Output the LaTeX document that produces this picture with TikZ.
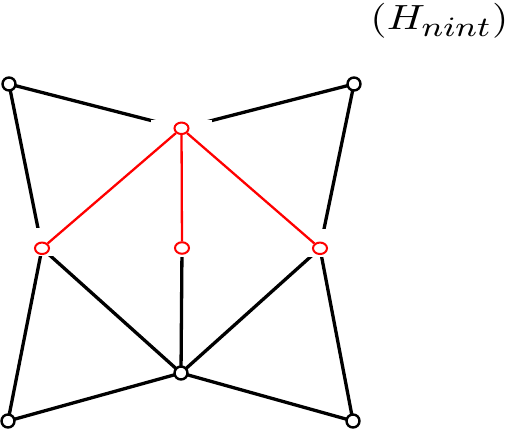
\documentclass[tikz,border=0pt]{standalone}
\usepackage{graphicx}
\usetikzlibrary{shapes.geometric}
\pgfdeclarelayer{bg}
\pgfdeclarelayer{mid}
\pgfsetlayers{bg,mid,main}
\tikzset{
  bnode/.style={circle, draw=black, line width=2.4pt, fill=white, minimum size=13pt, inner sep=0pt},
  rnode/.style={ellipse, draw=red, line width=2pt, fill=white, minimum width=14pt, minimum height=11.5pt, inner sep=0pt},
  bedge/.style={draw=black, line width=3.3pt},
  redge/.style={draw=red, line width=2.3pt},
  gapbox/.style={fill=white, draw=none}
}
\begin{document}
\begin{tikzpicture}[x=1pt,y=-1pt]
\useasboundingbox (0,0) rectangle (513,433);
% nodes
\node[bnode] (TL) at (9,84) {};
\node[bnode] (TR) at (354,84) {};
\node[bnode] (BL) at (8,421) {};
\node[bnode] (BR) at (353,421) {};
\node[bnode] (B) at (181,373) {};
\node[rnode] (T) at (181.5,128.3) {};
\node[rnode] (L) at (42,248.3) {};
\node[rnode] (C) at (182,248) {};
\node[rnode] (R) at (320,248.3) {};
% label
\node[anchor=center, inner sep=0pt] (lab) at (439.5,21) {\scalebox{4.2}[3.5]{$(H_{\mbox{\fontsize{8}{9}\selectfont$nint$}})$}};
% black edges
\begin{pgfonlayer}{bg}
\draw[bedge] (TL.center) -- (T.center);
\draw[bedge] (TR.center) -- (T.center);
\draw[bedge] (TL.center) -- (L.center);
\draw[bedge] (TR.center) -- (R.center);
\draw[bedge] (L.center) -- (BL.center);
\draw[bedge] (R.center) -- (BR.center);
\draw[bedge] (L.center) -- (B.center);
\draw[bedge] (C.center) -- (B.center);
\draw[bedge] (R.center) -- (B.center);
\draw[bedge] (BL.center) -- (B.center);
\draw[bedge] (BR.center) -- (B.center);
\end{pgfonlayer}
% white gaps and red edges
\begin{pgfonlayer}{mid}
\fill[gapbox] (151,120) rectangle (212,138);
\fill[gapbox] (30,228) rectangle (56,256);
\fill[gapbox] (306,229) rectangle (335,256.5);
\fill[gapbox] (170,240) rectangle (194,256.5);
\draw[redge] (T) -- (L);
\draw[redge] (T) -- (C);
\draw[redge] (T) -- (R);
\end{pgfonlayer}
\end{tikzpicture}
\end{document}
